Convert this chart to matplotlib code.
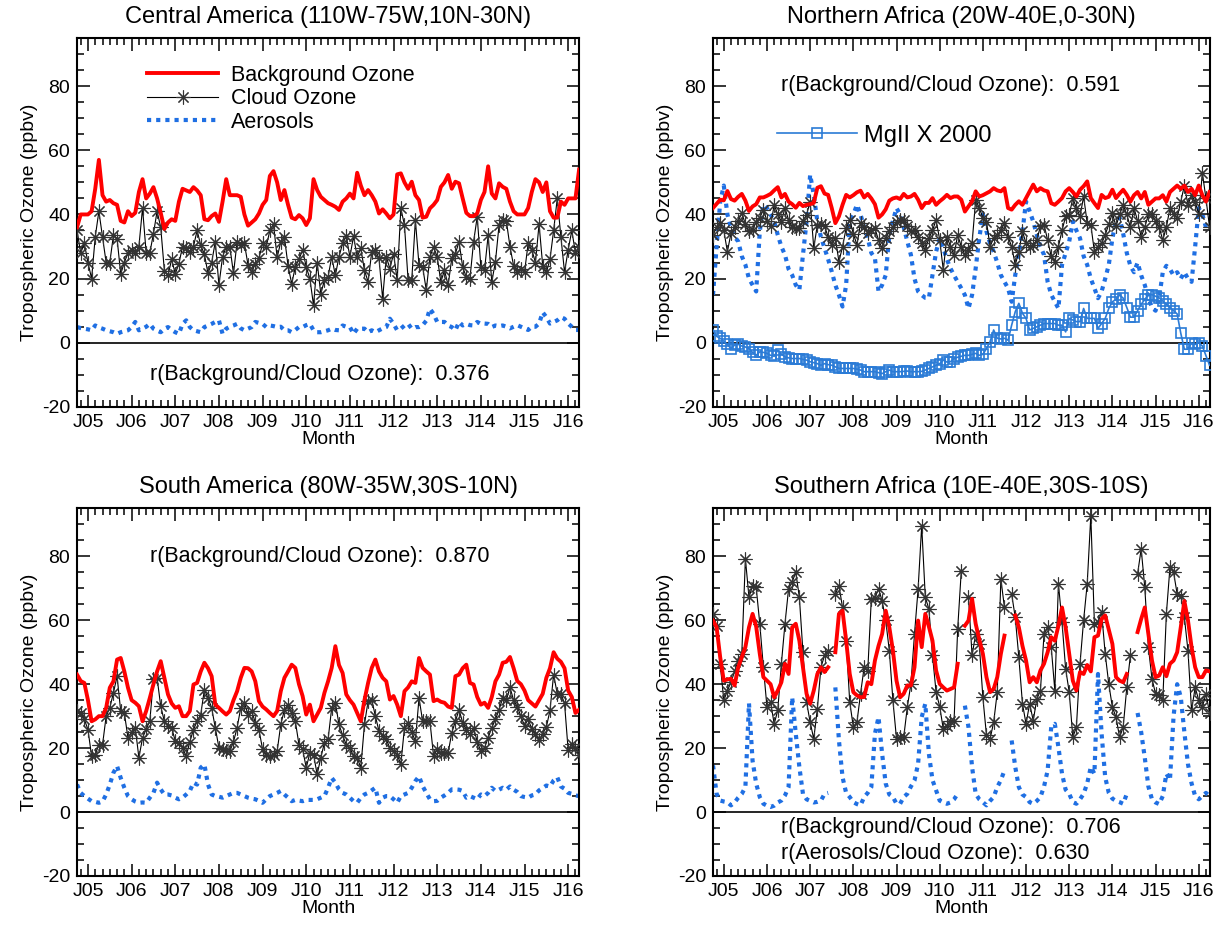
import numpy as np
import pandas as pd
import matplotlib
matplotlib.use("Agg")
import matplotlib.pyplot as plt
from matplotlib.ticker import MultipleLocator
from matplotlib.lines import Line2D

plt.rcParams["font.family"] = ["Liberation Sans", "DejaVu Sans"]
plt.rcParams["axes.unicode_minus"] = False

nan = np.nan

# --- monthly time axis, Oct 2004 .. Apr 2016 ---
months = pd.date_range("2004-10-01", "2016-04-01", freq="MS")
t = months.year + (months.month - 1) / 12.0

year_ticks = list(range(2005, 2017))
year_labels = ["J%02d" % (y % 100) for y in year_ticks]

# --- Central America ---
ca_background = [36, 40, 40,
                 40, 41, 48, 57, 46, 44, 44.5, 43.5, 43, 38, 37.5, 41,
                 39.5, 40.5, 47, 51, 45, 46.5, 48.5, 45, 40.5, 35.5, 37.5, 38.5,
                 38, 44, 48, 47.5, 47, 48.5, 47.5, 46, 38.5, 38.2, 39.5, 40.3,
                 37.7, 44, 51, 46, 46, 46, 45.5, 40, 36.5, 37.5, 38.5, 40.3,
                 43, 44.5, 52, 53.5, 50, 44.5, 47.6, 43, 39, 38.5, 39.8, 38.8,
                 36.7, 38.8, 51, 47.6, 45.5, 44.5, 43.5, 43, 42.4, 41.4, 44, 45,
                 46.5, 45, 53, 49, 46, 47.6, 46, 44, 40.3, 41.6, 40.3, 38.8,
                 40, 52.5, 52.8, 50, 48, 50.2, 46, 44.5, 39, 39.3, 41.9, 43,
                 44.5, 48.6, 50, 52.3, 48, 50.2, 49.7, 45, 40.5, 39.5, 39.5, 40.3,
                 44.5, 47, 55, 46.5, 45, 49.7, 48.6, 48, 44, 41, 40, 40,
                 40, 42, 47, 51, 50, 47, 50, 41, 39, 39, 44, 43,
                 45, 45, 45, 54]
ca_cloud = [35, 28, 31,
            25, 20, 33, 41, 33, 25, 25, 33.5, 32.5, 21.5, 25, 28,
            29, 28, 30, 42, 28, 28, 34, 41, 36, 22.5, 21, 26,
            21.5, 24.7, 30, 29.5, 28.3, 30, 35, 30.4, 27.6, 21.6, 25, 31.5,
            18, 26.8, 29.9, 30, 21.6, 31.5, 30.4, 31, 24.2, 22, 24.7, 26.3,
            31, 30, 35, 37, 26.6, 31.5, 33, 24, 18.4, 23.6, 26, 28.9,
            23.6, 20, 11.7, 25, 15.3, 19.5, 20.5, 26.8, 21, 26.8, 31, 33.2,
            26.8, 33.2, 26.8, 29.4, 22.6, 19, 28.3, 28.9, 26.3, 13.8, 26.8, 23.1,
            27.8, 19.5, 41.9, 36.7, 19.5, 19.5, 38.2, 24.2, 23.6, 16.4, 26.8, 29.9,
            26.8, 19, 22.6, 17.9, 26.3, 27.8, 31.5, 23.6, 20.5, 20, 31.5, 39.3,
            23.6, 22.6, 33.5, 19, 25.2, 36.7, 38.2, 38, 30, 24, 22, 23,
            22, 31, 29, 25, 37, 24, 22, 26, 35, 45, 33, 22,
            29, 35, 28, 30]
ca_aerosol = [4.9, 4.6, 4.4,
              4.2, 3.9, 5.4, 4.8, 4.4, 3.9, 3.6, 3.3, 2.8, 3.3, 3.6, 3.9,
              4.9, 6.5, 3.9, 4.4, 5.0, 5.9, 4.4, 3.8, 3.3, 4.4, 4.9, 4.0,
              3.3, 2.8, 5.9, 7.0, 4.9, 3.9, 3.6, 3.3, 4.9, 5.4, 5.9, 6.5,
              7.0, 2.8, 4.4, 5.0, 5.4, 5.9, 4.5, 3.9, 4.4, 4.9, 6.5, 6.2,
              5.9, 4.9, 5.4, 5.2, 4.9, 5.0, 3.9, 3.9, 3.3, 4.0, 4.9, 4.9,
              5.5, 5.9, 3.9, 3.3, 3.3, 3.6, 3.9, 4.4, 4.0, 3.9, 5.4, 5.0,
              4.9, 2.8, 4.4, 4.4, 4.4, 3.3, 3.9, 3.3, 3.9, 4.5, 4.9, 7.5,
              5.9, 3.9, 4.4, 5.4, 5.9, 4.4, 4.9, 4.9, 5.5, 6.9, 10.6, 9.0,
              6.5, 6.5, 6.5, 5.4, 4.9, 3.9, 6.5, 5.4, 5.9, 5.5, 5.4, 6.5,
              5.9, 6.0, 5.9, 4.9, 5.4, 5.2, 5.4, 5.0, 4.5, 5.0, 5.5, 5.0,
              4.5, 4.0, 5.0, 5.0, 6.0, 9.5, 8.0, 6.0, 6.5, 7.0, 8.0, 7.5,
              6.0, 5.0, 4.0, 4.0]

# --- Northern Africa ---
na_background = [42, 43.3, 44.6,
                 44.4, 47.3, 44.8, 44.3, 45.5, 46.4, 44.3, 41.1, 42.5, 43.2, 45.3, 45.3,
                 45.8, 46.4, 47.5, 48.5, 45.3, 46.4, 44, 43.2, 42.1, 43.6, 42.6, 43,
                 43.2, 43.6, 48.3, 48.8, 46.5, 46.1, 42, 37.3, 39.4, 43, 46.1, 45.3,
                 46, 46.9, 47.4, 45.3, 46.4, 45, 43.2, 39, 40, 41.6, 44.3, 45,
                 45.3, 44.8, 46.4, 45.3, 45.6, 46.4, 44.6, 42, 43.6, 43.6, 45.1, 43,
                 44.1, 45, 46.1, 45.1, 45.6, 45.6, 44.6, 40.9, 42.5, 44.1, 47.2, 45.6,
                 46, 46.6, 47.2, 48.2, 47.5, 47.2, 48.2, 42, 41.5, 43, 44.1, 43,
                 45.1, 47.2, 49.3, 47.2, 48.2, 47.5, 47.2, 43.5, 43, 44, 45.1, 47.2,
                 48.2, 47, 45.6, 47.7, 48.8, 50.3, 45.1, 43.5, 42, 46.1, 45.1, 45.5,
                 47.7, 45.1, 46.5, 47.7, 46.1, 44, 46, 47, 45, 47, 43, 44,
                 45, 45, 46, 44, 47, 48, 49, 48, 49, 47, 48, 46,
                 49, 46, 44, 47]
na_cloud = [33.6, 36, 37.3,
            35, 28.4, 34.2, 36, 38, 40.4, 37, 34.7, 35, 37.8, 39, 41.5,
            38, 36.3, 43, 40, 37.8, 42, 38.3, 36, 35.7, 35.7, 38, 39.9,
            44, 29.5, 36.8, 37, 36.3, 33, 30.5, 32.6, 25.3, 30, 35.7, 38.3,
            34, 30.5, 37.3, 36, 34.2, 35, 35.7, 32, 29.5, 32.6, 34.7, 36,
            37.8, 38.3, 38.3, 36.3, 34.7, 35.2, 33, 31, 29, 32.6, 35, 38.3,
            32.1, 22.7, 33.1, 30, 27.4, 33.6, 30, 27.4, 29, 31, 44.6, 42,
            39, 37.8, 30, 32.6, 33.6, 35, 37.3, 33, 30, 24.3, 28.4, 34.7,
            31, 30, 30.5, 32.1, 36.3, 36.8, 32, 26.9, 25.3, 30, 35, 39.4,
            39.9, 45.1, 42, 39.4, 45.6, 37.3, 36.8, 28.4, 30, 31, 33.6, 37,
            40.4, 36.3, 40, 43, 40, 36, 42, 38, 33, 36, 40, 40,
            38, 36, 32, 36, 42, 40, 39, 44, 49, 43, 46, 44,
            40, 53, 45, 36]
na_aerosol = [14.9, 30, 44,
              49, 40, 35.7, 33, 31.6, 27, 24.3, 20, 18, 16, 34.7, 43,
              42, 40, 37.8, 33.6, 30, 27.4, 23, 21.1, 18, 16.5, 27.4, 37.8,
              52.4, 46.1, 37.8, 33, 29.5, 26, 22.2, 18, 14.9, 11.3, 18, 37.8,
              40, 43, 40, 36, 32.6, 28, 26.4, 16, 18, 21.1, 33.6, 38,
              42, 40, 36, 31.6, 27.4, 20, 16, 14.9, 14, 13.9, 21.1, 28.4,
              32.6, 29.5, 26, 23.2, 21, 19, 17, 14.9, 10.7, 14.9, 23.2, 32.6,
              40, 34.7, 31, 28.4, 25, 21.1, 19, 17, 12.8, 21.1, 28, 34.7,
              44, 41, 37.8, 33.6, 30, 27.4, 19, 15, 12.8, 10.7, 24.3, 28,
              31.6, 37.8, 35, 32.6, 27, 24.3, 20, 17, 13.9, 16, 20, 24.3,
              32.6, 37.8, 39, 34, 28, 24, 22, 25, 21, 18, 14, 11,
              10, 14, 22, 24, 23, 21, 22, 20, 22, 20, 19, 30,
              42, 40, 36, 35]
na_mgii = [4, 2, 1.4,
           0.5, -0.5, -1.8, -0.7, -0.5, -1, -1.3, -1.8, -3, -3.9, -2.8, -3,
           -3.3, -3.9, -4.2, -2.3, -3.5, -4.4, -4.7, -4.9, -4.9, -4.9, -5.2, -5.4,
           -5.9, -6.2, -6.5, -7, -6.5, -6.8, -7, -7.5, -8, -8, -8, -8,
           -8, -8.2, -8.5, -9, -9, -9, -9, -9.3, -9.6, -9, -8.5, -9,
           -9, -9, -8.9, -8.8, -9, -9, -9, -8.9, -8.5, -8, -7.5, -7,
           -6.5, -5.4, -6, -5.9, -4.9, -4.5, -4.2, -3.9, -3.9, -3.6, -3.3, -3.9,
           -3.6, -1.8, 0.3, 4, 1.4, 1.2, 1.4, 0.8, 5.5, 9.7, 12.3, 9.2,
           7.6, 4, 4.5, 5, 5.5, 6, 6, 6, 6, 5.5, 5.5, 3.4,
           7.6, 7.1, 6.6, 6.6, 10.7, 7.6, 7.6, 7.6, 4.5, 6, 7.6, 10.7,
           12.8, 13.5, 14.9, 13.9, 11, 8, 8, 10, 12, 13.5, 15, 15,
           14.5, 14, 13, 12, 11, 10, 9, 3, -2, -2, 0, -0.5,
           0, -1, -4, -7]

# --- South America ---
sa_background = [43, 41, 40.4,
                 35, 28.4, 29, 30, 30, 32.6, 38.9, 40.9, 47.7, 48.2, 44, 38.9,
                 35, 34.2, 33.1, 28.4, 31.6, 35.7, 40, 44, 47.2, 42, 36.8, 34,
                 32.6, 33.1, 30, 30, 31.6, 39.9, 40.4, 44, 46.7, 45, 42.5, 33.6,
                 32.6, 31.5, 30.5, 31.6, 35, 37.8, 42, 45.1, 45, 44, 40.9, 34.7,
                 33, 32.1, 31, 30, 31.6, 37.8, 42, 44, 46.1, 45.1, 40, 36.3,
                 30.5, 33.6, 28.4, 30.5, 32.6, 37.3, 40.9, 45.1, 51.9, 46, 43.5, 36.8,
                 35, 33.6, 31, 28.4, 35, 40.4, 45.1, 47.7, 44, 42, 40.9, 35.2,
                 36.3, 33.6, 30, 37.8, 39, 40.9, 40.4, 48.2, 45.1, 44, 43, 34.7,
                 35.2, 34.5, 34.2, 33, 32.6, 42.5, 43, 45, 46.1, 40.4, 39.9, 36,
                 33.6, 34.2, 32.6, 36, 40.9, 43, 46.7, 47, 48.5, 45, 41, 40,
                 38, 35, 34, 33, 35, 37, 42, 45, 50, 48, 47, 45,
                 38, 36, 31, 32]
sa_cloud = [31.6, 31, 29,
            25.8, 17.5, 18, 21.1, 21, 30, 32.6, 37.3, 42.5, 31.6, 31, 23.2,
            25, 26.4, 17, 23.2, 26, 28.4, 41.5, 42, 33.1, 28.4, 27, 26.4,
            22.2, 21.5, 20.1, 17.5, 22, 25.8, 28.4, 30.5, 38.3, 35.7, 32.6, 26.4,
            20.1, 19.6, 19, 19, 22, 26.4, 32.6, 34.2, 30.5, 31.6, 28, 25.8,
            19.6, 18, 17.5, 18, 19, 27.4, 32, 33.6, 31, 28.4, 21.1, 19.6,
            13.9, 18.5, 18, 11.8, 17, 21.7, 22.7, 32.6, 34.2, 27.4, 24, 21.1,
            20.1, 17.5, 17, 13.9, 27.4, 34.7, 35.2, 30, 25.3, 23.7, 22.7, 20,
            19, 18, 14.9, 26.4, 27.9, 25, 22.2, 35.7, 28.4, 28.4, 28.4, 17.5,
            19.6, 18.5, 18.5, 18.5, 24.8, 28.4, 32, 28, 25.8, 24.3, 26.4, 22,
            19, 20.1, 23.2, 26.4, 29, 32, 35.7, 35, 39, 35, 33, 30,
            27, 29, 26, 24.5, 22.4, 24.5, 26.6, 31.8, 43, 37, 37, 34,
            19.3, 21.4, 20, 17.7]
sa_aerosol = [8.6, 6, 5,
              4.2, 3.4, 3.2, 2.9, 3.3, 5.5, 8.6, 12.3, 14.4, 10.7, 7.6, 5,
              4, 3.3, 2.9, 3, 2.9, 4.5, 6, 9.2, 7.1, 5.5, 5.5, 5.2,
              4.5, 4, 4.5, 5.5, 6.6, 9.2, 8.6, 13.9, 14.9, 8.6, 5.5, 5,
              4.8, 4.5, 5, 5.5, 6, 6, 5.5, 5, 4.5, 4.2, 4, 3.5,
              2.9, 4, 5, 5.5, 6, 6.6, 5.5, 4.5, 3.4, 3.8, 3.6, 3.4,
              3.8, 3.8, 3.8, 4, 4.5, 5, 7.6, 10.7, 9.2, 7.1, 6, 5.5,
              4.5, 3.4, 2.9, 4.5, 5.5, 6, 6.8, 7.6, 2.9, 4.5, 5, 5,
              4, 2.9, 5, 5.5, 6, 7.6, 9.7, 11.2, 8.1, 6, 4, 3.4,
              3.5, 4.5, 5.2, 6, 7.1, 7.1, 7, 6.6, 4.5, 5, 4.5, 4,
              5.5, 5, 6, 7.6, 6.6, 7, 7.6, 7, 8, 7, 6.3, 5,
              4.7, 4.5, 5.2, 5.5, 6.8, 7.5, 8.3, 8, 9.9, 10.9, 8, 7.3,
              6, 5.7, 5.2, 5]

# --- Southern Africa (gaps where no data) ---
saf_background = [59.9, 57.8, 48.4,
                  41.1, 41.5, 41.7, 39.6, 45.3, 48.4, 51.6, 57.8, 62, 58, 49.5, 42.2,
                  41.1, 40, 35.9, 38, 40.6, 46.4, 43.2, 57.8, 58.9, 53.6, 45.3, 37,
                  33.9, 38, 43.2, 45.3, 43.8, 45.3, nan, 50, 62, 63, 53.6, 43.2,
                  37.5, 36.5, 35.9, 36, 40.6, 40, 47.4, 52, 55.7, 63, 57.8, 50.5,
                  41.1, 35.9, 37, 39.6, 39.6, 45.3, 59.9, 51.6, 62, 58, 53.6, 44.3,
                  40.1, 39, 38, 38.5, 39, 46.4, nan, 58.3, 59.9, 66.7, 58.9, 54,
                  49.5, 42.2, 37.5, 38.5, 42.2, 49.5, 55.2, nan, nan, 61.5, 57.8, 52,
                  47.4, 40.6, 42.2, 40.6, 44.3, 46.4, 50, 54.7, 53.6, 58.3, 64, 57.8,
                  49.5, 41.1, 38, 43.8, 43.2, 46, 44, 54.7, 55.2, 60.4, 61.5, 57,
                  52.6, 42.2, 41.1, 40.6, 43.2, nan, nan, 56.3, 60.4, 64, 55.7, 47.4,
                  42.2, 42.7, 45.3, 42.5, 46.4, 47.4, 50, 57.8, 66, 60, 51.6, 45.3,
                  42.2, 42.2, 44.3, 44]
saf_cloud = [62, 58.3, 46.4,
             34.9, 38, 40.6, 44, 47.4, 49.5, 79.2, 67.2, 70.8, 70.3, 58.9, 45.3,
             32.8, 34.4, 27.6, 31.8, 46.4, 58.9, 69.8, 72, 75, 67.2, 50, 34.4,
             28.1, 22.9, 32.3, 45.3, 49, 50.5, nan, 68.2, 70.8, 64, 53.6, 34.4,
             26.6, 28.1, 37, 45.3, 44, 66.7, 67, 69.8, 66.1, 60, 50.5, 34.9,
             22.9, 23.4, 23.4, 32.8, 40.1, 55.7, 69.8, 89.6, 67.2, 63.5, 49, 37.5,
             33, 26, 27, 28.6, 28.6, 57.3, 75.5, nan, 67.2, 49, 55.7, 52.6,
             35.9, 24, 22.9, 28.1, 37.5, 72.9, 64, nan, 68.2, 60.9, 48.4, 33.9,
             27.6, 33.9, 28.6, 35.4, 38, 55.7, 57.8, 51.6, 38, 71.4, 59.4, 44.8,
             37.5, 23.4, 26.6, 46.4, 60, 71.4, 92.7, 58.9, 59.4, 62.5, 49.5, 40,
             32.8, 29.7, 23.4, 26.6, 39, 49, nan, 74.5, 82.3, 70.3, 51.6, 41.7,
             37, 36.5, 34.9, 62, 76.6, 75, 68.2, 67.7, 61, 50.5, 31.8, 39,
             35, 32.8, 37, 31]
saf_aerosol = [14.6, 5.7, 3.6,
               3.3, 3.1, 2.1, 3, 4.5, 5.7, 7.8, 34, 16, 8.9, 4.7, 2.6,
               2, 1.6, 2, 3, 3.6, 5.2, 7.8, 35.9, 24.5, 14.1, 5.7, 4,
               3.5, 3, 3.2, 3.6, 5.7, 6, nan, 39, 22.4, 10.9, 6, 4.7,
               3.1, 2.5, 2.1, 4.7, 6, 7.8, 24.5, 29.7, 18.2, 8.9, 5.5, 4.7,
               2.6, 2.6, 4.7, 5.7, 8, 9.9, 15.1, 29.7, 33.9, 18.2, 10, 6.8,
               3.6, 3, 2.6, 3, 4, 5.7, nan, 33.3, 26.6, 14.1, 5.7, 4,
               3.1, 2.1, 3.5, 4.7, 7.8, 10, 13, nan, 22.4, 14.1, 7.8, 5.5,
               4.7, 3.1, 2.6, 3.5, 4.7, 8, 13, 26.6, 27.6, 20.3, 12, 7,
               5.7, 3.1, 2.6, 4, 5.7, 9, 14.1, 12, 43.2, 24.5, 10.9, 6,
               4.2, 3.5, 3.1, 2.6, 5.7, nan, nan, 31, 25, 17, 8, 4,
               3, 2.5, 5, 12, 10, 30, 40, 36, 25, 15, 9, 5,
               4, 5, 6, 5]

RED = "#ff0000"
BLUE = "#1f6fe3"
SQ_BLUE = "#2b7bd6"
FS_TICK = 14
FS_LAB = 14
FS_TXT = 15.5


def style(ax, title):
    ax.axhline(0, color="black", linewidth=1.2, zorder=1)
    ax.set_xlim(2004.75, 2016.25)
    ax.set_ylim(-20, 95)
    ax.set_xticks(year_ticks)
    ax.set_xticklabels(year_labels)
    ax.xaxis.set_minor_locator(MultipleLocator(1 / 6))
    ax.set_yticks([-20, 0, 20, 40, 60, 80])
    ax.yaxis.set_minor_locator(MultipleLocator(5))
    ax.tick_params(which="both", direction="in", top=True, right=True, width=1.1)
    ax.tick_params(which="major", length=9, labelsize=FS_TICK, pad=5)
    ax.tick_params(which="minor", length=5)
    for s in ax.spines.values():
        s.set_linewidth(1.5)
    ax.set_title(title, fontsize=17, pad=11)
    ax.set_xlabel("Month", fontsize=FS_LAB, labelpad=0)
    ax.set_ylabel("Tropospheric Ozone (ppbv)", fontsize=FS_LAB, labelpad=3)


def draw(ax, bg, cloud, aer):
    ax.plot(t, aer, color=BLUE, linewidth=3, linestyle=(0, (1.0, 1.2)), zorder=2)
    ax.plot(t, cloud, color="black", linewidth=0.8, marker=(8, 2, 0),
            markersize=10, markeredgecolor="#333333", markeredgewidth=0.8, zorder=3)
    ax.plot(t, bg, color=RED, linewidth=2.8, zorder=4)


fig = plt.figure(figsize=(12.23, 9.26), dpi=100)
ax_ca = fig.add_axes([0.063, 0.5605, 0.4105, 0.3985])
ax_na = fig.add_axes([0.583, 0.5605, 0.406, 0.3985])
ax_sa = fig.add_axes([0.063, 0.054, 0.4105, 0.397])
ax_saf = fig.add_axes([0.583, 0.054, 0.406, 0.397])

# Central America
draw(ax_ca, ca_background, ca_cloud, ca_aerosol)
style(ax_ca, "Central America (110W-75W,10N-30N)")
handles = [
    Line2D([], [], color=RED, linewidth=2.8),
    Line2D([], [], color="black", linewidth=0.8, marker=(8, 2, 0), markersize=10,
           markeredgecolor="#333333", markeredgewidth=0.8),
    Line2D([], [], color=BLUE, linewidth=3, linestyle=(0, (1.0, 1.2))),
]
ax_ca.legend(handles, ["Background Ozone", "Cloud Ozone", "Aerosols"],
             loc="upper left", bbox_to_anchor=(0.14, 0.928), frameon=False,
             fontsize=FS_TXT, handlelength=3.3, handletextpad=0.6,
             labelspacing=0.12, borderpad=0, borderaxespad=0)
ax_ca.text(0.145, 0.087, "r(Background/Cloud Ozone):  0.376",
           transform=ax_ca.transAxes, fontsize=FS_TXT, va="center")

# Northern Africa
draw(ax_na, na_background, na_cloud, na_aerosol)
ax_na.plot(t, na_mgii, color=SQ_BLUE, linewidth=1.2, marker="s", markersize=7,
           markerfacecolor="none", markeredgecolor=SQ_BLUE, markeredgewidth=1.2, zorder=5)
style(ax_na, "Northern Africa (20W-40E,0-30N)")
mg_handle = Line2D([], [], color=SQ_BLUE, linewidth=1.2, marker="s", markersize=7,
                   markerfacecolor="none", markeredgecolor=SQ_BLUE, markeredgewidth=1.2)
ax_na.legend([mg_handle], ["MgII X 2000"], loc="upper left",
             bbox_to_anchor=(0.128, 0.765), frameon=False, fontsize=FS_TXT + 1.5,
             handlelength=3.4, handletextpad=0.3, borderpad=0, borderaxespad=0)
ax_na.text(0.137, 0.87, "r(Background/Cloud Ozone):  0.591",
           transform=ax_na.transAxes, fontsize=FS_TXT, va="center")

# South America
draw(ax_sa, sa_background, sa_cloud, sa_aerosol)
style(ax_sa, "South America (80W-35W,30S-10N)")
ax_sa.text(0.145, 0.87, "r(Background/Cloud Ozone):  0.870",
           transform=ax_sa.transAxes, fontsize=FS_TXT, va="center")

# Southern Africa
draw(ax_saf, saf_background, saf_cloud, saf_aerosol)
style(ax_saf, "Southern Africa (10E-40E,30S-10S)")
ax_saf.text(0.137, 0.132, "r(Background/Cloud Ozone):  0.706",
            transform=ax_saf.transAxes, fontsize=FS_TXT, va="center")
ax_saf.text(0.137, 0.061, "r(Aerosols/Cloud Ozone):  0.630",
            transform=ax_saf.transAxes, fontsize=FS_TXT, va="center")

fig.savefig("out.png", dpi=100)
